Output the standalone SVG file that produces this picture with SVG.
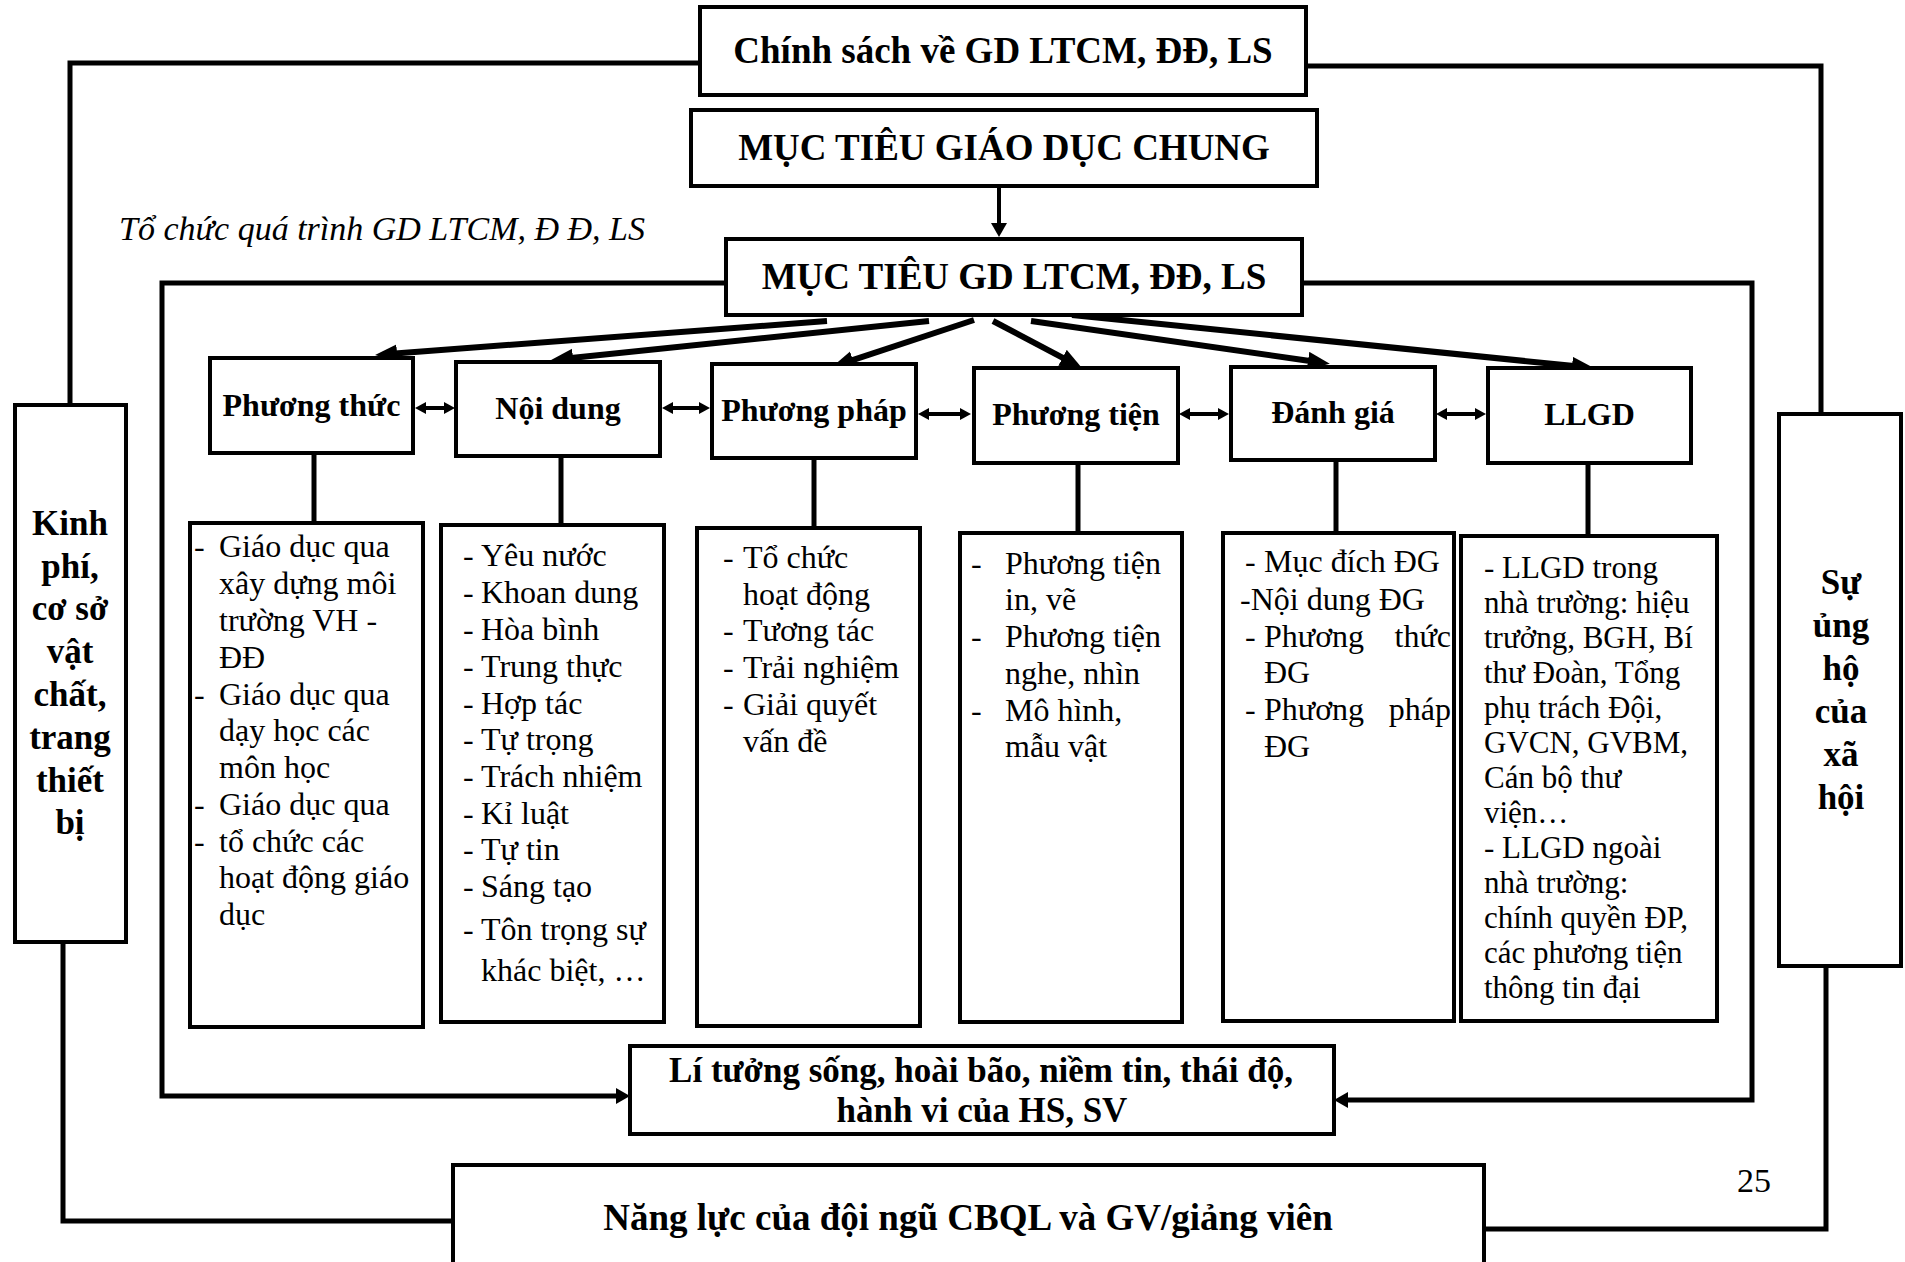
<svg xmlns="http://www.w3.org/2000/svg" width="1905" height="1262" viewBox="0 0 1905 1262">
<style>
.box{fill:#fff;stroke:#000;stroke-width:4}
.ln{fill:none;stroke:#000;stroke-width:5}
.arw{fill:none;stroke:#000;stroke-width:6}
.dbl{fill:none;stroke:#000;stroke-width:4}
text{font-family:"Liberation Serif","Times New Roman",serif;fill:#000}
.t{font-size:37px;font-weight:bold;text-anchor:middle}
.c{font-size:32px;font-weight:bold;text-anchor:middle}
.s{font-size:35px;font-weight:bold;text-anchor:middle}
.l{font-size:32px}
.ll{font-size:31px}
.i{font-size:34px;font-style:italic}
</style>
<defs>
<marker id="big" markerUnits="userSpaceOnUse" markerWidth="24" markerHeight="20" refX="2" refY="9" orient="auto"><path d="M0,0 L22,9 L0,18 Z" fill="#000"/></marker>
<marker id="mid" markerUnits="userSpaceOnUse" markerWidth="16" markerHeight="18" refX="2" refY="8" orient="auto"><path d="M0,0 L14,8 L0,16 Z" fill="#000"/></marker>
<marker id="sm" markerUnits="userSpaceOnUse" markerWidth="13" markerHeight="14" refX="2" refY="6" orient="auto-start-reverse"><path d="M0,0 L11,6 L0,12 Z" fill="#000"/></marker>
</defs>
<g id="connectors">
<polyline class="ln" points="700,63 70,63 70,405"/>
<polyline class="ln" points="1306,66 1821,66 1821,414"/>
<polyline class="ln" points="63,942 63,1221 453,1221"/>
<polyline class="ln" points="1484,1229 1826,1229 1826,966"/>
<line class="dbl" x1="999" y1="186" x2="999" y2="225" marker-end="url(#mid)"/>
<polyline class="ln" points="726,283 162,283 162,1096 618,1096" stroke-width="6" marker-end="url(#mid)"/>
<polyline class="ln" points="1302,283 1752,283 1752,1100 1346,1100" stroke-width="6" marker-end="url(#mid)"/>
<line class="arw" x1="827" y1="321" x2="395" y2="353.5" marker-end="url(#big)"/>
<line class="arw" x1="929" y1="321" x2="571" y2="358" marker-end="url(#big)"/>
<line class="arw" x1="974" y1="320" x2="851" y2="360.7" marker-end="url(#big)"/>
<line class="arw" x1="993" y1="321" x2="1064.3" y2="358.7" marker-end="url(#big)"/>
<line class="arw" x1="1031" y1="321" x2="1310" y2="361" marker-end="url(#big)"/>
<line class="arw" x1="1072" y1="315" x2="1574" y2="366" marker-end="url(#big)"/>
<line class="dbl" x1="424" y1="408" x2="446" y2="408" marker-start="url(#sm)" marker-end="url(#sm)"/>
<line class="dbl" x1="671" y1="408" x2="701" y2="408" marker-start="url(#sm)" marker-end="url(#sm)"/>
<line class="dbl" x1="927" y1="414" x2="962" y2="414" marker-start="url(#sm)" marker-end="url(#sm)"/>
<line class="dbl" x1="1188" y1="414" x2="1220" y2="414" marker-start="url(#sm)" marker-end="url(#sm)"/>
<line class="dbl" x1="1445" y1="414" x2="1477" y2="414" marker-start="url(#sm)" marker-end="url(#sm)"/>
<line class="ln" x1="314" y1="453" x2="314" y2="523"/>
<line class="ln" x1="561" y1="456" x2="561" y2="525"/>
<line class="ln" x1="814" y1="458" x2="814" y2="529"/>
<line class="ln" x1="1078" y1="463" x2="1078" y2="534"/>
<line class="ln" x1="1336" y1="460" x2="1336" y2="534"/>
<line class="ln" x1="1588" y1="463" x2="1588" y2="536"/>
</g>
<text class="i" x="119" y="240">Tổ chức quá trình GD LTCM, Đ Đ, LS</text>
<text x="1737" y="1192" style="font-size:34px">25</text>
<g id="chinh-sach">
<rect class="box" x="700" y="7" width="606" height="88"/>
<text class="t" x="1003" y="63">Chính sách về GD LTCM, ĐĐ, LS</text>
</g>
<g id="muc-tieu-chung">
<rect class="box" x="691" y="110" width="626" height="76"/>
<text class="t" x="1004" y="160">MỤC TIÊU GIÁO DỤC CHUNG</text>
</g>
<g id="muc-tieu-gd">
<rect class="box" x="726" y="239" width="576" height="76"/>
<text class="t" x="1014" y="289">MỤC TIÊU GD LTCM, ĐĐ, LS</text>
</g>
<g id="kinh-phi">
<rect class="box" x="15" y="405" width="111" height="537"/>
<text class="s" x="70" y="535">Kinh</text>
<text class="s" x="70" y="578">phí,</text>
<text class="s" x="70" y="620">cơ sở</text>
<text class="s" x="70" y="663">vật</text>
<text class="s" x="70" y="706">chất,</text>
<text class="s" x="70" y="749">trang</text>
<text class="s" x="70" y="792">thiết</text>
<text class="s" x="70" y="834">bị</text>
</g>
<g id="su-ung-ho">
<rect class="box" x="1779" y="414" width="122" height="552"/>
<text class="s" x="1841" y="594">Sự</text>
<text class="s" x="1841" y="637">ủng</text>
<text class="s" x="1841" y="680">hộ</text>
<text class="s" x="1841" y="723">của</text>
<text class="s" x="1841" y="766">xã</text>
<text class="s" x="1841" y="809">hội</text>
</g>
<g id="phuong-thuc">
<rect class="box" x="210" y="358" width="203" height="95"/>
<text class="c" x="311.5" y="416">Phương thức</text>
</g>
<g id="noi-dung">
<rect class="box" x="456" y="362" width="204" height="94"/>
<text class="c" x="558" y="419">Nội dung</text>
</g>
<g id="phuong-phap">
<rect class="box" x="712" y="364" width="204" height="94"/>
<text class="c" x="814" y="421">Phương pháp</text>
</g>
<g id="phuong-tien">
<rect class="box" x="974" y="368" width="204" height="95"/>
<text class="c" x="1076" y="425">Phương tiện</text>
</g>
<g id="danh-gia">
<rect class="box" x="1231" y="367" width="204" height="93"/>
<text class="c" x="1333" y="423">Đánh giá</text>
</g>
<g id="llgd">
<rect class="box" x="1488" y="368" width="203" height="95"/>
<text class="c" x="1589.5" y="425">LLGD</text>
</g>
<g id="list-phuong-thuc">
<rect class="box" x="190" y="523" width="233" height="504"/>
<text class="l" x="194" y="557">-</text><text class="l" x="219" y="557">Giáo dục qua</text>
<text class="l" x="219" y="594">xây dựng môi</text>
<text class="l" x="219" y="631">trường VH -</text>
<text class="l" x="219" y="668">ĐĐ</text>
<text class="l" x="194" y="705">-</text><text class="l" x="219" y="705">Giáo dục qua</text>
<text class="l" x="219" y="741">dạy học các</text>
<text class="l" x="219" y="778">môn học</text>
<text class="l" x="194" y="815">-</text><text class="l" x="219" y="815">Giáo dục qua</text>
<text class="l" x="194" y="852">-</text><text class="l" x="219" y="852">tổ chức các</text>
<text class="l" x="219" y="888">hoạt động giáo</text>
<text class="l" x="219" y="925">dục</text>
</g>
<g id="list-noi-dung">
<rect class="box" x="441" y="525" width="223" height="497"/>
<text class="l" x="463" y="566">-</text><text class="l" x="481" y="566">Yêu nước</text>
<text class="l" x="463" y="603">-</text><text class="l" x="481" y="603">Khoan dung</text>
<text class="l" x="463" y="640">-</text><text class="l" x="481" y="640">Hòa bình</text>
<text class="l" x="463" y="677">-</text><text class="l" x="481" y="677">Trung thực</text>
<text class="l" x="463" y="714">-</text><text class="l" x="481" y="714">Hợp tác</text>
<text class="l" x="463" y="750">-</text><text class="l" x="481" y="750">Tự trọng</text>
<text class="l" x="463" y="787">-</text><text class="l" x="481" y="787">Trách nhiệm</text>
<text class="l" x="463" y="824">-</text><text class="l" x="481" y="824">Kỉ luật</text>
<text class="l" x="463" y="860">-</text><text class="l" x="481" y="860">Tự tin</text>
<text class="l" x="463" y="897">-</text><text class="l" x="481" y="897">Sáng tạo</text>
<text class="l" x="463" y="940">-</text><text class="l" x="481" y="940">Tôn trọng sự</text>
<text class="l" x="481" y="981">khác biệt, …</text>
</g>
<g id="list-phuong-phap">
<rect class="box" x="697" y="528" width="223" height="498"/>
<text class="l" x="723" y="568">-</text><text class="l" x="743" y="568">Tổ chức</text>
<text class="l" x="743" y="605">hoạt động</text>
<text class="l" x="723" y="641">-</text><text class="l" x="743" y="641">Tương tác</text>
<text class="l" x="723" y="678">-</text><text class="l" x="743" y="678">Trải nghiệm</text>
<text class="l" x="723" y="715">-</text><text class="l" x="743" y="715">Giải quyết</text>
<text class="l" x="743" y="752">vấn đề</text>
</g>
<g id="list-phuong-tien">
<rect class="box" x="960" y="533" width="222" height="489"/>
<text class="l" x="971" y="574">-</text><text class="l" x="1005" y="574">Phương tiện</text>
<text class="l" x="1005" y="610">in, vẽ</text>
<text class="l" x="971" y="647">-</text><text class="l" x="1005" y="647">Phương tiện</text>
<text class="l" x="1005" y="684">nghe, nhìn</text>
<text class="l" x="971" y="721">-</text><text class="l" x="1005" y="721">Mô hình,</text>
<text class="l" x="1005" y="757">mẫu vật</text>
</g>
<g id="list-danh-gia">
<rect class="box" x="1223" y="533" width="231" height="488"/>
<text class="l" x="1245" y="572">-</text><text class="l" x="1264" y="572">Mục đích ĐG</text>
<text class="l" x="1240" y="610">-Nội dung ĐG</text>
<text class="l" x="1245" y="647">-</text><text class="l" x="1264" y="647">Phương</text><text class="l" x="1451" y="647" text-anchor="end">thức</text>
<text class="l" x="1264" y="683">ĐG</text>
<text class="l" x="1245" y="720">-</text><text class="l" x="1264" y="720">Phương</text><text class="l" x="1451" y="720" text-anchor="end">pháp</text>
<text class="l" x="1264" y="757">ĐG</text>
</g>
<g id="list-llgd">
<rect class="box" x="1461" y="536" width="256" height="485"/>
<text class="ll" x="1484" y="578">- LLGD trong</text>
<text class="ll" x="1484" y="613">nhà trường: hiệu</text>
<text class="ll" x="1484" y="648">trưởng, BGH, Bí</text>
<text class="ll" x="1484" y="683">thư Đoàn, Tổng</text>
<text class="ll" x="1484" y="718">phụ trách Đội,</text>
<text class="ll" x="1484" y="753">GVCN, GVBM,</text>
<text class="ll" x="1484" y="788">Cán bộ thư</text>
<text class="ll" x="1484" y="823">viện…</text>
<text class="ll" x="1484" y="858">- LLGD ngoài</text>
<text class="ll" x="1484" y="893">nhà trường:</text>
<text class="ll" x="1484" y="928">chính quyền ĐP,</text>
<text class="ll" x="1484" y="963">các phương tiện</text>
<text class="ll" x="1484" y="998">thông tin đại</text>
</g>
<g id="li-tuong">
<rect class="box" x="630" y="1046" width="704" height="88"/>
<text class="c" x="981" y="1082" style="font-size:35px">Lí tưởng sống, hoài bão, niềm tin, thái độ,</text>
<text class="c" x="982" y="1122" style="font-size:35px">hành vi của HS, SV</text>
</g>
<g id="nang-luc">
<rect class="box" x="453" y="1165" width="1031" height="110"/>
<text class="t" x="968" y="1230">Năng lực của đội ngũ CBQL và GV/giảng viên</text>
</g>
</svg>
